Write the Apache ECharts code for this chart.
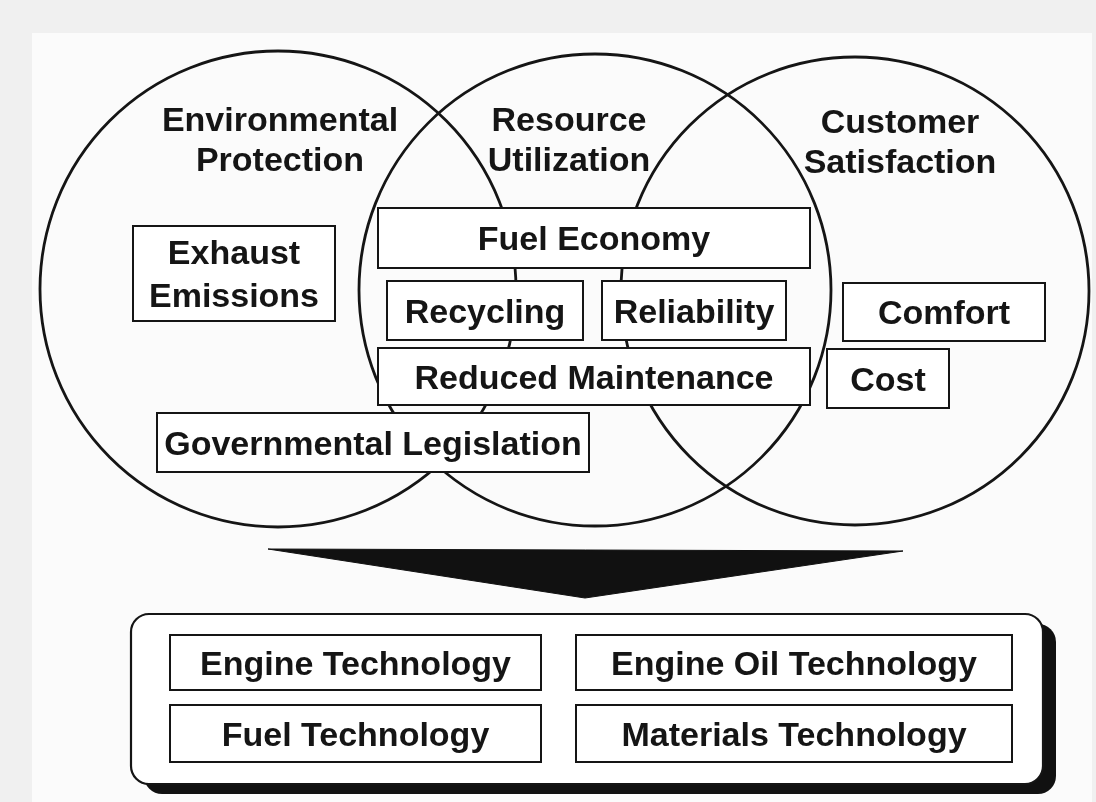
<!DOCTYPE html>
<html>
<head>
<meta charset="utf-8">
<style>
  html, body { margin: 0; padding: 0; background: #f0f0f0; }
  #chart { width: 1096px; height: 802px; }
</style>
<script src="https://cdn.jsdelivr.net/npm/echarts@6/dist/echarts.min.js"></script>
</head>
<body>
<div id="chart"></div>
<script>
// ---- Diagram content (text) ----
const circleTitles = ['Environmental\nProtection', 'Resource\nUtilization', 'Customer\nSatisfaction'];
const issueLabels = ['Exhaust\nEmissions', 'Fuel Economy', 'Recycling', 'Reliability',
  'Reduced Maintenance', 'Governmental Legislation', 'Comfort', 'Cost'];
const technologyLabels = ['Engine Technology', 'Engine Oil Technology', 'Fuel Technology', 'Materials Technology'];

// ---- Diagram layout (in data units of the hidden 1096 x 802 axes) ----
const pageFrame = [[32, 33, 1092, 802]];
const circleGeom = [[278, 289, 238], [595, 290, 236], [855, 291, 234]];   // cx, cy, r
const titleCenters = [[280, 142], [569, 142], [900, 144]];
const issueBoxes = [
  [133, 226, 335, 321], [378, 208, 810, 268], [387, 281, 583, 340], [602, 281, 786, 340],
  [378, 348, 810, 405], [157, 413, 589, 472], [843, 283, 1045, 341], [827, 349, 949, 408]
];
const arrowPoints = [[268, 549], [903, 551], [585, 598]];
const panelBox = [[131, 614, 1043, 784]];
const technologyBoxes = [
  [170, 635, 541, 690], [576, 635, 1012, 690], [170, 705, 541, 762], [576, 705, 1012, 762]
];

const FONT = '700 34px "Liberation Sans", Arial, Helvetica, sans-serif';
const INK = '#151515';
const TEXT_NUDGE = 3;

const chart = echarts.init(document.getElementById('chart'), null, { renderer: 'canvas' });

function rectFromItem(api, i0) {
  const p1 = api.coord([api.value(i0), api.value(i0 + 1)]);
  const p2 = api.coord([api.value(i0 + 2), api.value(i0 + 3)]);
  return {
    x: Math.min(p1[0], p2[0]), y: Math.min(p1[1], p2[1]),
    width: Math.abs(p2[0] - p1[0]), height: Math.abs(p2[1] - p1[1])
  };
}

function labeledBoxSeries(boxes, labels, z) {
  return {
    type: 'custom', silent: true, z: z,
    data: boxes.map((b, i) => ({ value: b, name: labels[i] })),
    encode: { x: [0, 2], y: [1, 3] },
    renderItem: function (params, api) {
      const r = rectFromItem(api, 0);
      const label = labels[params.dataIndex];
      const lines = label.split('\n');
      const children = [{
        type: 'rect',
        shape: r,
        style: { fill: '#ffffff', stroke: INK, lineWidth: 2 }
      }];
      const lh = 43;
      lines.forEach((ln, k) => {
        children.push({
          type: 'text',
          style: {
            text: ln, x: r.x + r.width / 2,
            y: r.y + r.height / 2 + (k - (lines.length - 1) / 2) * lh + TEXT_NUDGE,
            align: 'center', verticalAlign: 'middle', font: FONT, fill: INK
          }
        });
      });
      return { type: 'group', children: children };
    }
  };
}

const option = {
  backgroundColor: '#f0f0f0',
  animation: false,
  grid: { left: 0, right: 0, top: 0, bottom: 0 },
  xAxis: { type: 'value', min: 0, max: 1096, show: false },
  yAxis: { type: 'value', min: 0, max: 802, inverse: true, show: false },
  series: [
    {
      // paper frame
      type: 'custom', silent: true, z: 1,
      data: pageFrame, encode: { x: [0, 2], y: [1, 3] },
      renderItem: function (params, api) {
        return { type: 'rect', shape: rectFromItem(api, 0), style: { fill: '#fbfbfb' } };
      }
    },
    {
      // circles
      type: 'custom', silent: true, z: 2,
      data: circleGeom, encode: { x: 0, y: 1 },
      renderItem: function (params, api) {
        const c = api.coord([api.value(0), api.value(1)]);
        const r = api.size([api.value(2), 0])[0];
        return {
          type: 'circle', shape: { cx: c[0], cy: c[1], r: r },
          style: { fill: 'none', stroke: INK, lineWidth: 2.8 }
        };
      }
    },
    {
      // circle titles
      type: 'custom', silent: true, z: 3,
      data: titleCenters, encode: { x: 0, y: 1 },
      renderItem: function (params, api) {
        const c = api.coord([api.value(0), api.value(1)]);
        const lines = circleTitles[params.dataIndex].split('\n');
        return {
          type: 'group',
          children: lines.map((ln, k) => ({
            type: 'text',
            style: {
              text: ln, x: c[0], y: c[1] + (k - 0.5) * 40,
              align: 'center', verticalAlign: 'middle', font: FONT, fill: INK
            }
          }))
        };
      }
    },
    labeledBoxSeries(issueBoxes, issueLabels, 4),
    {
      // arrow
      type: 'custom', silent: true, z: 5,
      data: [arrowPoints.flat()],
      encode: { x: [0, 2, 4], y: [1, 3, 5] },
      renderItem: function (params, api) {
        const pts = [];
        for (let i = 0; i < 6; i += 2) pts.push(api.coord([api.value(i), api.value(i + 1)]));
        return { type: 'polygon', shape: { points: pts }, style: { fill: '#111111', stroke: '#111111', lineWidth: 1 } };
      }
    },
    {
      // rounded panel with drop shadow
      type: 'custom', silent: true, z: 6,
      data: panelBox, encode: { x: [0, 2], y: [1, 3] },
      renderItem: function (params, api) {
        const r = rectFromItem(api, 0);
        return {
          type: 'group',
          children: [
            { type: 'rect', shape: { x: r.x + 13, y: r.y + 10, width: r.width, height: r.height, r: 18 },
              style: { fill: '#111111' } },
            { type: 'rect', shape: { x: r.x, y: r.y, width: r.width, height: r.height, r: 18 },
              style: { fill: '#ffffff', stroke: INK, lineWidth: 2.2 } }
          ]
        };
      }
    },
    labeledBoxSeries(technologyBoxes, technologyLabels, 7)
  ]
};

chart.setOption(option);
</script>
</body>
</html>
